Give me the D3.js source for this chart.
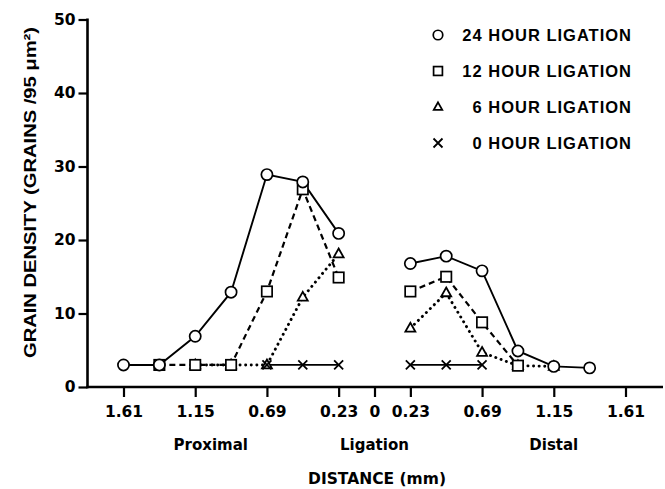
<!DOCTYPE html>
<html>
<head>
<meta charset="utf-8">
<script src="https://cdn.jsdelivr.net/npm/d3@7"></script>
<style>
  html, body { margin: 0; padding: 0; background: #fff; }
  svg { display: block; }
</style>
</head>
<body>
<svg id="chart" width="665" height="489"></svg>
<script>
// ---- data (distance in mm; proximal negative, distal positive) ----
const xTicks = [-1.61, -1.15, -0.69, -0.23, 0, 0.23, 0.69, 1.15, 1.61];
const yTicks = [0, 10, 20, 30, 40, 50];
const regionLabels = ["Proximal", "Ligation", "Distal"];
const regionPos = [-1.05, 0, 1.15];

const h24Prox = [[-1.61, 3], [-1.38, 3], [-1.15, 6.9], [-0.92, 12.9], [-0.69, 28.9], [-0.46, 27.9], [-0.23, 20.9]];
const h24Dist = [[0.23, 16.8], [0.46, 17.8], [0.69, 15.8], [0.92, 4.9], [1.15, 2.8], [1.38, 2.6]];
const h12Prox = [[-1.38, 3], [-1.15, 3], [-0.92, 3], [-0.69, 13], [-0.46, 26.9], [-0.23, 14.9]];
const h12Dist = [[0.23, 13], [0.46, 15], [0.69, 8.8], [0.92, 2.9]];
const h6Prox = [[-1.15, 3], [-0.92, 3], [-0.69, 3], [-0.46, 12.2], [-0.23, 18.1]];
const h6Dist = [[0.23, 8], [0.46, 12.8], [0.69, 4.7], [0.92, 2.9], [1.15, 2.8]];
const h0Prox = [[-0.69, 3], [-0.46, 3], [-0.23, 3]];
const h0Dist = [[0.23, 3], [0.46, 3], [0.69, 3]];

const legendLabels = ["24 HOUR LIGATION", "12 HOUR LIGATION", "6 HOUR LIGATION", "0 HOUR LIGATION"];

// ---- layout ----
const svg = d3.select("#chart");
const x = d3.scaleLinear().domain([-1.61, 1.61]).range([123.5, 625.5]);
const y = d3.scaleLinear().domain([0, 50]).range([387, 19.5]);
const axisLeftX = 87.5;
const axisRightX = 663;

const tickFont = "'DejaVu Sans', sans-serif";
const labelFont = "'Liberation Sans', Arial, sans-serif";

// axes
const xAxis = d3.axisBottom(x).tickValues(xTicks)
  .tickFormat(d => d === 0 ? "0" : Math.abs(d).toFixed(2))
  .tickSize(10).tickSizeOuter(0).tickPadding(9);
const gx = svg.append("g").attr("transform", "translate(0,387)").call(xAxis);
gx.select(".domain").remove();
gx.selectAll(".tick line").attr("stroke", "#000").attr("stroke-width", 2.2);
gx.selectAll(".tick text").attr("font-family", tickFont).attr("font-weight", "bold")
  .attr("font-size", "15.5px").attr("fill", "#000");

const yAxis = d3.axisLeft(y).tickValues(yTicks).tickSize(9).tickSizeOuter(0).tickPadding(3);
const gy = svg.append("g").attr("transform", `translate(${axisLeftX},0)`).call(yAxis);
gy.select(".domain").remove();
gy.selectAll(".tick line").attr("stroke", "#000").attr("stroke-width", 2.2);
gy.selectAll(".tick text").attr("font-family", tickFont).attr("font-weight", "bold")
  .attr("font-size", "15.5px").attr("fill", "#000");

// axis lines
svg.append("line").attr("x1", axisLeftX).attr("x2", axisLeftX).attr("y1", y(50) - 1).attr("y2", y(0) + 1.2)
  .attr("stroke", "#000").attr("stroke-width", 2.6);
svg.append("line").attr("x1", axisLeftX - 1.2).attr("x2", axisRightX).attr("y1", y(0)).attr("y2", y(0))
  .attr("stroke", "#000").attr("stroke-width", 2.6);

// region labels
svg.selectAll(".region").data(regionLabels).enter().append("text")
  .attr("x", (d, i) => x(regionPos[i])).attr("y", 450)
  .attr("text-anchor", "middle").attr("font-family", tickFont).attr("font-weight", "bold")
  .attr("font-size", "15px").text(d => d);

// axis titles
svg.append("text").attr("x", 377).attr("y", 484).attr("text-anchor", "middle")
  .attr("font-family", tickFont).attr("font-weight", "bold").attr("font-size", "15.5px")
  .text("DISTANCE (mm)");

svg.append("text").attr("transform", "translate(36,192.5) rotate(-90)").attr("text-anchor", "middle")
  .attr("font-family", labelFont).attr("font-weight", "bold").attr("font-size", "16px")
  .attr("textLength", 331).attr("lengthAdjust", "spacingAndGlyphs")
  .text("GRAIN DENSITY (GRAINS /95 \u03BCm\u00B2)");

// ---- lines ----
const line = d3.line().x(d => x(d[0])).y(d => y(d[1]));
const styles = {
  h0: { dash: null, width: 1.8, cap: "butt" },
  h6: { dash: "0.1,5.5", width: 2.9, cap: "round" },
  h12: { dash: "6,4", width: 2.2, cap: "butt" },
  h24: { dash: null, width: 1.9, cap: "butt" }
};
function drawLine(data, st) {
  svg.append("path").datum(data).attr("d", line).attr("fill", "none").attr("stroke", "#000")
    .attr("stroke-width", st.width).attr("stroke-linecap", st.cap)
    .attr("stroke-dasharray", st.dash);
}
[h0Prox, h0Dist].forEach(d => drawLine(d, styles.h0));
[h6Prox, h6Dist].forEach(d => drawLine(d, styles.h6));
[h12Prox, h12Dist].forEach(d => drawLine(d, styles.h12));
[h24Prox, h24Dist].forEach(d => drawLine(d, styles.h24));

// ---- markers ----
function drawMarker(g, type, cx, cy, scale) {
  const s = scale || 1;
  if (type === "circle") {
    g.append("circle").attr("cx", cx).attr("cy", cy).attr("r", 5.6 * s)
      .attr("fill", "#fff").attr("stroke", "#000").attr("stroke-width", 1.7);
  } else if (type === "square") {
    const h = 5.2 * s;
    g.append("rect").attr("x", cx - h).attr("y", cy - h).attr("width", 2 * h).attr("height", 2 * h)
      .attr("fill", "#fff").attr("stroke", "#000").attr("stroke-width", 1.7);
  } else if (type === "triangle") {
    const r = 5.4 * s;
    const pts = [[cx, cy - r], [cx + r * 0.92, cy + r * 0.62], [cx - r * 0.92, cy + r * 0.62]];
    g.append("polygon").attr("points", pts.map(p => p.join(",")).join(" "))
      .attr("fill", "#fff").attr("stroke", "#000").attr("stroke-width", 1.8);
  } else if (type === "x") {
    const r = 4.5 * s;
    g.append("path").attr("d", `M${cx - r},${cy - r}L${cx + r},${cy + r}M${cx - r},${cy + r}L${cx + r},${cy - r}`)
      .attr("stroke", "#000").attr("stroke-width", 1.8).attr("fill", "none");
  }
}
const gm = svg.append("g");
[...h6Prox, ...h6Dist].forEach(d => drawMarker(gm, "triangle", x(d[0]), y(d[1])));
[...h12Prox, ...h12Dist].forEach(d => drawMarker(gm, "square", x(d[0]), y(d[1])));
[...h0Prox, ...h0Dist].forEach(d => drawMarker(gm, "x", x(d[0]), y(d[1])));
[...h24Prox, ...h24Dist].forEach(d => drawMarker(gm, "circle", x(d[0]), y(d[1])));

// ---- legend ----
const legendTypes = ["circle", "square", "triangle", "x"];
const legendRowY = [35, 71, 107, 143];
const gl = svg.append("g");
legendLabels.forEach((lab, i) => {
  drawMarker(gl, legendTypes[i], 438, legendRowY[i], legendTypes[i] === "x" ? 1 : 0.85);
  gl.append("text").attr("x", 632).attr("y", legendRowY[i] + 6)
    .attr("text-anchor", "end").attr("font-family", labelFont).attr("font-weight", "bold")
    .attr("font-size", "16.5px").attr("letter-spacing", "1px").text(lab);
});
</script>
</body>
</html>
